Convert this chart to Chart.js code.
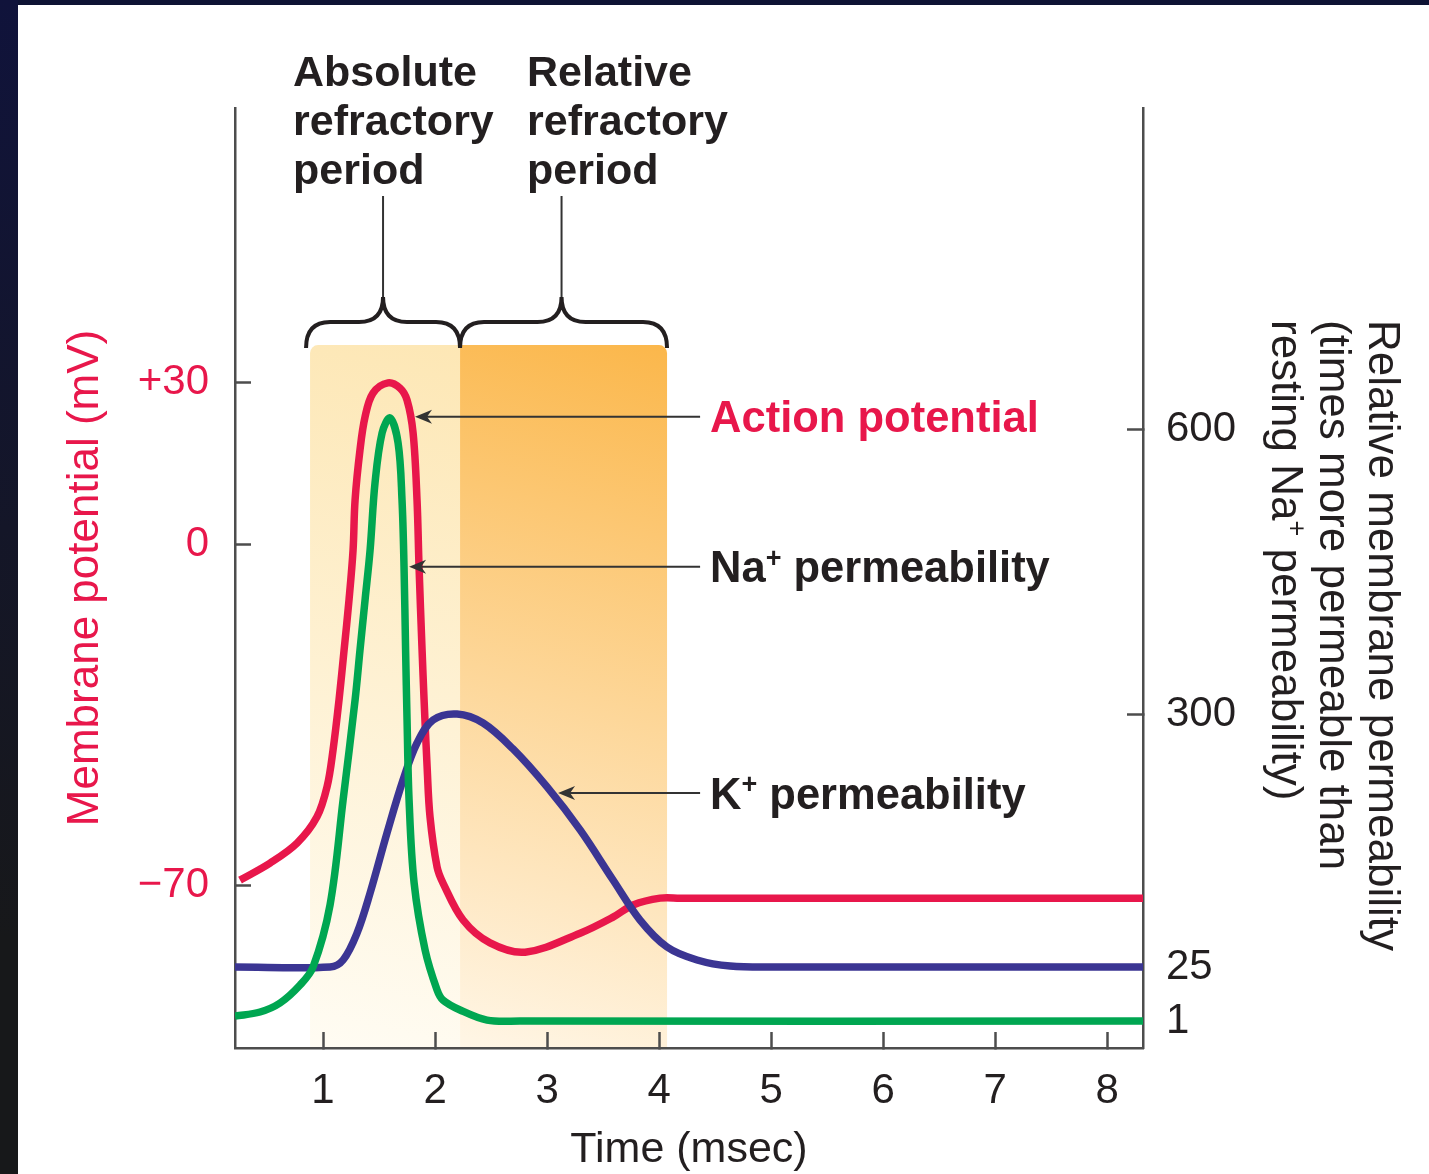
<!DOCTYPE html>
<html>
<head>
<meta charset="utf-8">
<script src="https://cdn.jsdelivr.net/npm/chart.js@4.4.1/dist/chart.umd.min.js"></script>
<style>
  html, body { margin: 0; padding: 0; background: #fff; }
  body { width: 1429px; height: 1174px; position: relative; overflow: hidden; }
  #topband { position: absolute; left: 0; top: 0; width: 1429px; height: 5px; background: #0e1334; }
  #sideband { position: absolute; left: 0; top: 0; width: 18px; height: 1174px;
    background: linear-gradient(#10133b, #141628 45%, #17181a 80%); }
  canvas { position: absolute; left: 0; top: 0; }
</style>
</head>
<body>
<div id="topband"></div>
<div id="sideband"></div>
<canvas id="chart" width="1429" height="1174"></canvas>
<script>
// action potential (mV, left axis)
const apTime = [0.259, 0.527, 0.768, 0.946, 1.036, 1.089, 1.143, 1.188, 1.232, 1.268,
  1.286, 1.330, 1.375, 1.446, 1.580, 1.688, 1.750, 1.804, 1.839, 1.857,
  1.884, 1.902, 1.929, 1.955, 2.018, 2.071, 2.250, 2.491, 2.804, 3.295,
  3.589, 3.768, 4.009, 4.188, 8.320];
const apMv = [-69.0, -65.5, -61.4, -56.0, -49.8, -42.3, -31.9, -21.7, -11.4, -1.2,
  8.2, 17.5, 23.6, 28.0, 29.9, 28.9, 26.7, 20.6, 8.2, -4.6,
  -21.7, -32.0, -45.7, -56.0, -66.3, -69.6, -77.2, -81.9, -83.8, -79.9,
  -76.6, -74.1, -72.7, -72.7, -72.7];

// Na+ permeability (right axis)
const naTime = [0.214, 0.4375, 0.616, 0.795, 0.911, 1.0625, 1.179, 1.286, 1.330,
  1.375, 1.420, 1.464, 1.527, 1.598, 1.670, 1.705, 1.723, 1.737, 1.750,
  1.768, 1.813, 1.911, 2.018, 2.071, 2.223, 2.464, 2.759, 8.320];
const naPerm = [3.2, 5.0, 9.0, 17.0, 25.0, 92.4, 206.5, 314.7, 367.4,
  420.0, 472.6, 543.2, 595.8, 611.6, 585.3, 525.3, 454.7, 367.4, 293.5,
  206.5, 116.3, 43.5, 14.8, 10.3, 5.9, 1.4, 1.0, 1.0];

// K+ permeability (right axis)
const kTime = [0.214, 1.0625, 1.179, 1.304, 1.420, 1.571, 1.714, 1.839, 1.982, 2.196,
  2.429, 2.696, 3.000, 3.295, 3.589, 3.830, 4.071, 4.339, 4.634, 5.080, 8.320];
const kPerm = [25, 25, 32.6, 62.0, 105.4, 170.7, 228.3, 268.5, 293.5, 300,
  290.2, 262.0, 220.7, 174.0, 119.6, 76.0, 46.7, 32.6, 26.0, 25, 25];

// ticks
const timeTicks = [1, 2, 3, 4, 5, 6, 7, 8];
const mvTicks = [-70, 0, 30];
const mvTickLabels = ['\u221270', '0', '+30'];
const permTicks = [1, 25, 300, 600];
const permTickLabels = ['1', '25', '300', '600'];

// refractory periods (msec)
const periodStart = [0.884, 2.223];
const periodEnd = [2.223, 4.071];
const periodLabels = [['Absolute', 'refractory', 'period'], ['Relative', 'refractory', 'period']];
const periodLabelTime = [0.732, 2.821];

// callouts
const calloutText = [['Action potential'], ['Na', '+', ' permeability'], ['K', '+', ' permeability']];
const calloutTipTime = [1.821, 1.768, 3.098];
const calloutTipValue = [23.6, 455, 214];
const calloutTailTime = 4.366;

// axis layout: the schematic axes are not linear, so knots map value -> fraction of height
const mvKnotValues = [-103.5, -70, 0, 30, 80.8];
const mvKnotFrac = [0, 0.1734, 0.5359, 0.7082, 1];
const permKnotValues = [-11, 1, 25, 300, 600, 938];
const permKnotFrac = [0, 0.0287, 0.0862, 0.3553, 0.6585, 1];
const axisKnots = {
  yMv: { values: mvKnotValues, frac: mvKnotFrac },
  yPerm: { values: permKnotValues, frac: permKnotFrac }
};

const ink = '#231f20';
const red = '#e8174b';
const green = '#00a651';
const blue = '#3b3593';
const axisColor = '#4d4d4d';
const FONT = '"Liberation Sans", Arial, Helvetica, sans-serif';

class PiecewiseScale extends Chart.LinearScale {
  getPixelForValue(value) {
    const k = axisKnots[this.id];
    const v = k.values, f = k.frac;
    let i = 1;
    while (i < v.length - 1 && value > v[i]) i++;
    const d = f[i - 1] + (value - v[i - 1]) * (f[i] - f[i - 1]) / (v[i] - v[i - 1]);
    return this.getPixelForDecimal(d);
  }
  getValueForPixel(pixel) {
    const k = axisKnots[this.id];
    const v = k.values, f = k.frac;
    const d = this.getDecimalForPixel(pixel);
    let i = 1;
    while (i < f.length - 1 && d > f[i]) i++;
    return v[i - 1] + (d - f[i - 1]) * (v[i] - v[i - 1]) / (f[i] - f[i - 1]);
  }
}
PiecewiseScale.id = 'piecewise';
PiecewiseScale.defaults = Chart.LinearScale.defaults;
Chart.register(PiecewiseScale);

Chart.defaults.font.family = FONT;

function drawRich(ctx, segs, x, y, size, weight, color) {
  ctx.fillStyle = color;
  ctx.textAlign = 'left';
  ctx.textBaseline = 'alphabetic';
  segs.forEach((s, i) => {
    const sup = i % 2 === 1;
    ctx.font = weight + ' ' + (sup ? Math.round(size * 0.62) : size) + 'px ' + FONT;
    ctx.fillText(s, x, sup ? y - size * 0.36 : y);
    x += ctx.measureText(s).width;
  });
}

function brace(ctx, x0, x1, xt, yEnd, yMid, yTip) {
  const r = 24;
  ctx.beginPath();
  ctx.moveTo(x0, yEnd);
  ctx.quadraticCurveTo(x0, yMid, x0 + r, yMid);
  ctx.lineTo(xt - r, yMid);
  ctx.quadraticCurveTo(xt, yMid, xt, yTip);
  ctx.quadraticCurveTo(xt, yMid, xt + r, yMid);
  ctx.lineTo(x1 - r, yMid);
  ctx.quadraticCurveTo(x1, yMid, x1, yEnd);
  ctx.stroke();
}

function arrowLeft(ctx, tx, ty, tailX) {
  ctx.beginPath();
  ctx.moveTo(tx + 12, ty);
  ctx.lineTo(tailX, ty);
  ctx.stroke();
  ctx.beginPath();
  ctx.moveTo(tx, ty);
  ctx.lineTo(tx + 17, ty - 7);
  ctx.lineTo(tx + 12, ty);
  ctx.lineTo(tx + 17, ty + 7);
  ctx.closePath();
  ctx.fill();
}

const shadeTopColor = ['#fde7b5', '#fbb74b'];
const shadeBottomColor = ['#fffcf3', '#fff6e6'];

const decorations = {
  id: 'decorations',
  beforeDraw(chart) {
    const { ctx, chartArea, scales } = chart;
    const top = scales.yMv.getPixelForValue(36.9);
    periodStart.forEach((s, i) => {
      const x0 = scales.x.getPixelForValue(s);
      const x1 = scales.x.getPixelForValue(periodEnd[i]);
      const g = ctx.createLinearGradient(x1, top, x0, chartArea.bottom);
      g.addColorStop(0, shadeTopColor[i]);
      g.addColorStop(1, shadeBottomColor[i]);
      ctx.save();
      ctx.fillStyle = g;
      ctx.beginPath();
      ctx.roundRect(x0, top, x1 - x0, chartArea.bottom - 1 - top, i === 0 ? [8, 0, 0, 0] : [0, 8, 0, 0]);
      ctx.fill();
      ctx.restore();
    });
  },
  afterDraw(chart) {
    const { ctx, scales } = chart;
    const top = scales.yMv.getPixelForValue(36.9);
    ctx.save();

    // braces + pointer lines + period labels
    periodStart.forEach((s, i) => {
      const x0 = scales.x.getPixelForValue(s) - (i === 0 ? 4 : 0);
      const x1 = scales.x.getPixelForValue(periodEnd[i]);
      const xt = scales.x.getPixelForValue((s + periodEnd[i]) / 2) - 2;
      ctx.strokeStyle = ink;
      ctx.lineWidth = 4;
      ctx.lineCap = 'butt';
      brace(ctx, x0, x1, xt, top + 3, top - 23, top - 48);
      ctx.lineWidth = 2;
      ctx.strokeStyle = '#333';
      ctx.beginPath();
      ctx.moveTo(xt, top - 48);
      ctx.lineTo(xt, 196);
      ctx.stroke();
      const lx = scales.x.getPixelForValue(periodLabelTime[i]);
      periodLabels[i].forEach((line, j) => {
        drawRich(ctx, [line], lx, 86 + j * 49, 43, 'bold', ink);
      });
    });

    // callouts
    const axes = [scales.yMv, scales.yPerm, scales.yPerm];
    const colors = [red, ink, ink];
    const tailX = scales.x.getPixelForValue(calloutTailTime);
    calloutText.forEach((segs, i) => {
      const tx = scales.x.getPixelForValue(calloutTipTime[i]);
      const ty = axes[i].getPixelForValue(calloutTipValue[i]);
      ctx.strokeStyle = '#333';
      ctx.fillStyle = '#333';
      ctx.lineWidth = 2;
      arrowLeft(ctx, tx, ty, tailX);
      drawRich(ctx, segs, tailX + 10, ty + 15.5, 43.5, 'bold', colors[i]);
    });

    // right axis title (rotated, start aligned)
    const rightTitle = [['Relative membrane permeability'], ['(times more permeable than'], ['resting Na', '+', ' permeability)']];
    const baseX = [1369, 1320, 1272];
    rightTitle.forEach((segs, i) => {
      ctx.save();
      ctx.translate(baseX[i], 320);
      ctx.rotate(Math.PI / 2);
      drawRich(ctx, segs, 0, 0, 44, 'normal', ink);
      ctx.restore();
    });
    ctx.restore();
  }
};

const tickFont = { size: 42 };
const curve = { borderWidth: 7.5, tension: 0.35, cubicInterpolationMode: 'default', pointRadius: 0, fill: false };

new Chart(document.getElementById('chart'), {
  type: 'line',
  data: {
    datasets: [
      Object.assign({
        label: 'Action potential',
        data: apTime.map((t, i) => ({ x: t, y: apMv[i] })),
        yAxisID: 'yMv',
        borderColor: red,
        order: 2
      }, curve),
      Object.assign({
        label: 'Na+ permeability',
        data: naTime.map((t, i) => ({ x: t, y: naPerm[i] })),
        yAxisID: 'yPerm',
        borderColor: green,
        order: 0
      }, curve),
      Object.assign({
        label: 'K+ permeability',
        data: kTime.map((t, i) => ({ x: t, y: kPerm[i] })),
        yAxisID: 'yPerm',
        borderColor: blue,
        order: 1
      }, curve)
    ]
  },
  options: {
    responsive: false,
    animation: false,
    layout: { padding: { top: 108, left: 0, right: 0, bottom: 0 } },
    plugins: { legend: { display: false }, tooltip: { enabled: false } },
    scales: {
      x: {
        type: 'linear',
        min: 0.214,
        max: 8.32,
        afterBuildTicks: s => { s.ticks = timeTicks.map(v => ({ value: v })); },
        afterFit: s => { s.height = 126; },
        grid: { drawOnChartArea: false, drawTicks: true, tickLength: -16, tickWidth: 2.5, tickColor: axisColor },
        border: { color: axisColor, width: 2.5 },
        ticks: { padding: 34, color: ink, font: tickFont, autoSkip: false, maxRotation: 0 },
        title: { display: true, text: 'Time (msec)', color: ink, font: { size: 43, lineHeight: 1.1 }, padding: 0 }
      },
      yMv: {
        type: 'piecewise',
        position: 'left',
        min: mvKnotValues[0],
        max: mvKnotValues[mvKnotValues.length - 1],
        afterBuildTicks: s => { s.ticks = mvTicks.map(v => ({ value: v })); },
        afterFit: s => { s.width = 235; },
        grid: { drawOnChartArea: false, drawTicks: true, tickLength: -16, tickWidth: 2.5, tickColor: axisColor },
        border: { color: axisColor, width: 2.5 },
        ticks: { padding: 42, color: red, font: tickFont, autoSkip: false, callback: (v, i) => mvTickLabels[i] },
        title: { display: true, text: 'Membrane potential (mV)', color: red, font: { size: 44 }, padding: { top: 59, bottom: 0 } }
      },
      yPerm: {
        type: 'piecewise',
        position: 'right',
        min: permKnotValues[0],
        max: permKnotValues[permKnotValues.length - 1],
        afterBuildTicks: s => { s.ticks = permTicks.map(v => ({ value: v })); },
        afterFit: s => { s.width = 286; },
        grid: {
          drawOnChartArea: false, drawTicks: true, tickLength: -16, tickWidth: 2.5,
          tickColor: c => (c.tick && c.tick.value >= 300 ? axisColor : 'rgba(0,0,0,0)')
        },
        border: { color: axisColor, width: 2.5 },
        ticks: { padding: 39, color: ink, font: tickFont, autoSkip: false, callback: (v, i) => permTickLabels[i] }
      }
    }
  },
  plugins: [decorations]
});
</script>
</body>
</html>
